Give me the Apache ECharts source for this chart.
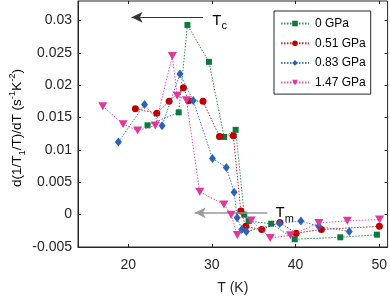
<!DOCTYPE html>
<html><head><meta charset="utf-8">
<script src="https://cdn.jsdelivr.net/npm/echarts@6/dist/echarts.min.js"></script>
<style>html,body{margin:0;padding:0;background:#fff}#c{width:390px;height:300px}</style>
</head><body><div id="c"></div>
<script>
// ---- data ----
var seriesNames = ['0 GPa', '0.51 GPa', '0.83 GPa', '1.47 GPa'];
var t0 = [22.31, 26.04, 27.08, 29.65, 31.47, 32.84, 33.87, 34.39, 37.09, 39.90, 45.35, 49.73];
var v0 = [0.0138, 0.0158, 0.0293, 0.0236, 0.0120, 0.0131, 0.0000, -0.0010, -0.0014, -0.0038, -0.0035, -0.0031];
var t1 = [20.86, 23.42, 24.89, 26.60, 27.23, 28.94, 30.91, 32.56, 33.46, 34.05, 35.96, 38.12, 40.07, 43.09, 50.02];
var v1 = [0.01635, 0.01566, 0.0175, 0.0196, 0.0176, 0.0175, 0.01207, 0.01219, 0.00055, -0.00181, -0.00231, -0.00121, -0.00286, -0.00229, -0.00181];
var t2 = [18.83, 21.95, 24.05, 26.19, 27.77, 30.07, 31.73, 32.66, 33.02, 33.58, 34.12, 38.10, 40.64, 42.77, 46.42];
var v2 = [0.01121, 0.01701, 0.01373, 0.02174, 0.01762, 0.00867, 0.00728, 0.00346, -0.00049, -0.00229, -0.0026, -0.00136, -0.00099, -0.00181, -0.0026];
var t3 = [16.96, 19.39, 21.12, 23.24, 25.27, 25.86, 26.96, 28.55, 31.44, 32.30, 33.04, 34.71, 36.97, 39.39, 42.79, 46.19, 50.04];
var v3 = [0.01675, 0.01398, 0.01298, 0.01376, 0.02449, 0.01837, 0.01765, 0.00353, 0.00156, -0.00001, -0.00316, -0.00091, -0.00361, -0.0032, -0.00129, -0.00096, -0.00076];
var xTicks = [20, 30, 40, 50];
var yTicks = [-0.005, 0, 0.005, 0.01, 0.015, 0.02, 0.025, 0.03];
var yTickLabels = ['-0.005', '0', '0.005', '0.01', '0.015', '0.02', '0.025', '0.03'];
var tcArrow = {from: [28.93, 0.03048], to: [20.40, 0.03048], labelAt: [30.05, 0.0317]};
var tmArrow = {from: [36.65, 0.00028], to: [27.95, 0.00028], labelAt: [37.6, 0.0019]};

var colors = ['#0b7a3c', '#c00000', '#2a63b5', '#e0389c'];
var symbols = ['rect', 'circle', 'diamond', 'triangle'];
var symSizes = [6, 7, [7, 9], [9, 8]];
var FONT = '"Liberation Sans", Arial, Helvetica, sans-serif';

function zip(a, b) { return a.map(function (x, i) { return [x, b[i]]; }); }
var allT = [t0, t1, t2, t3], allV = [v0, v1, v2, v3];

var chart = echarts.init(document.getElementById('c'), null, {renderer: 'canvas'});
var series = seriesNames.map(function (n, i) {
  return {
    name: n, type: 'line', data: zip(allT[i], allV[i]),
    symbol: symbols[i], symbolSize: symSizes[i], symbolRotate: i === 3 ? 180 : 0,
    showAllSymbol: true,
    lineStyle: {color: colors[i], width: 1, type: [1.5, 1.5], opacity: 0.85},
    itemStyle: {color: colors[i], borderWidth: 0},
    emphasis: {disabled: true}, animation: false, z: 3 + i
  };
});
// annotation arrows (in data coordinates)
series.push({
  type: 'line', data: [], silent: true, animation: false,
  markLine: {
    silent: true, animation: false, symbol: ['none', 'arrow'], symbolSize: [8, 11],
    label: {show: false},
    data: [
      [{coord: tcArrow.from, lineStyle: {color: '#333', width: 1, type: 'solid'}, itemStyle: {color: '#000'}}, {coord: tcArrow.to}],
      [{coord: tmArrow.from, lineStyle: {color: '#999', width: 1.5, type: 'solid'}, itemStyle: {color: '#000'}}, {coord: tmArrow.to}]
    ]
  }
});

var axisColor = '#262626';
chart.setOption({
  animation: false,
  textStyle: {fontFamily: FONT},
  grid: {left: 78, right: 1.5, top: 1, bottom: 44.5, show: true, borderColor: axisColor, borderWidth: 1, containLabel: false},
  legend: {
    data: seriesNames.map(function (n, i) { return {name: n, itemStyle: {color: colors[i]}}; }),
    left: 274, top: 11, orient: 'vertical',
    backgroundColor: '#fff', borderColor: axisColor, borderWidth: 1, borderRadius: 0,
    padding: [5, 5, 4, 6], itemGap: 4.7, itemWidth: 28, itemHeight: 7,
    textStyle: {fontSize: 12, color: '#000', fontFamily: FONT, padding: [0, 0, 0, 1], lineHeight: 15}
  },
  xAxis: [{
    type: 'value', min: 14, max: 51, position: 'bottom',
    axisLine: {show: true, onZero: false, lineStyle: {color: axisColor}},
    axisTick: {show: true, inside: true, length: 3, customValues: xTicks, lineStyle: {color: axisColor}},
    axisLabel: {customValues: xTicks, fontSize: 14, color: axisColor, margin: 11, fontFamily: FONT},
    splitLine: {show: false},
    name: 'T (K)', nameLocation: 'middle', nameGap: 34,
    nameTextStyle: {fontSize: 14, color: axisColor, fontFamily: FONT}
  }, {
    type: 'value', min: 14, max: 51, position: 'top',
    axisLine: {show: false, onZero: false},
    axisTick: {show: true, inside: true, length: 3, customValues: xTicks, lineStyle: {color: axisColor}},
    axisLabel: {show: false}, splitLine: {show: false}
  }],
  yAxis: [{
    type: 'value', min: -0.005, max: 0.033, position: 'left',
    axisLine: {show: true, onZero: false, lineStyle: {color: axisColor}},
    axisTick: {show: true, inside: true, length: 3, customValues: yTicks, lineStyle: {color: axisColor}},
    axisLabel: {
      customValues: yTicks, fontSize: 14, color: axisColor, margin: 6, fontFamily: FONT,
      formatter: function (v) {
        var i = yTicks.findIndex(function (t) { return Math.abs(t - v) < 1e-9; });
        return i >= 0 ? yTickLabels[i] : '';
      }
    },
    splitLine: {show: false}
  }, {
    type: 'value', min: -0.005, max: 0.033, position: 'right',
    axisLine: {show: false, onZero: false},
    axisTick: {show: true, inside: true, length: 3, customValues: yTicks, lineStyle: {color: axisColor}},
    axisLabel: {show: false}, splitLine: {show: false}
  }],
  series: series
});

function place() {
  var tc = chart.convertToPixel({gridIndex: 0}, tcArrow.labelAt);
  var tm = chart.convertToPixel({gridIndex: 0}, tmArrow.labelAt);
  var richT = {
    m: {fontSize: 15, fontFamily: FONT, color: '#000', lineHeight: 22},
    s: {fontSize: 11, fontFamily: FONT, color: '#000', lineHeight: 11, verticalAlign: 'bottom'}
  };
  var richY = {
    m: {fontSize: 13.5, fontFamily: FONT, color: axisColor, lineHeight: 20},
    sub: {fontSize: 9.5, fontFamily: FONT, color: axisColor, lineHeight: 10, verticalAlign: 'bottom'},
    sup: {fontSize: 9.5, fontFamily: FONT, color: axisColor, lineHeight: 10, verticalAlign: 'top'}
  };
  chart.setOption({
    graphic: [
      {type: 'text', x: tc[0], y: tc[1], silent: true, z: 10,
        style: {text: '{m|T}{s|c}', rich: richT, align: 'left', verticalAlign: 'top'}},
      {type: 'text', x: tm[0], y: tm[1], silent: true, z: 10,
        style: {text: '{m|T}{s|m}', rich: richT, align: 'left', verticalAlign: 'top'}},
      {type: 'text', x: 17, y: 128, rotation: Math.PI / 2, silent: true, z: 10,
        style: {text: '{m|d(1/T}{sub|1}{m|/T)/dT (s}{sup|-1}{m|K}{sup|-2}{m|)}', rich: richY, align: 'center', verticalAlign: 'middle'}}
    ]
  });
}
place();
</script>
</body></html>
